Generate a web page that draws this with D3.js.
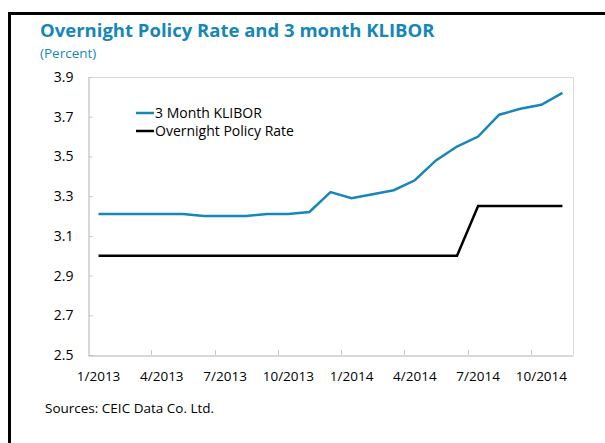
<!DOCTYPE html>
<html>
<head>
<meta charset="utf-8">
<script src="https://cdn.jsdelivr.net/npm/d3@7"></script>
<style>
body{margin:0;background:#fff;}
text{font-family:"Open Sans",sans-serif;}
</style>
</head>
<body>
<div id="chart"></div>
<script>
// chart data
var months=["1/2013","2/2013","3/2013","4/2013","5/2013","6/2013","7/2013","8/2013","9/2013","10/2013","11/2013","12/2013",
    "1/2014","2/2014","3/2014","4/2014","5/2014","6/2014","7/2014","8/2014","9/2014","10/2014","11/2014"];
var klibor=[3.21,3.21,3.21,3.21,3.21,3.20,3.20,3.20,3.21,3.21,3.22,3.32,
    3.29,3.31,3.33,3.38,3.48,3.55,3.60,3.71,3.74,3.76,3.82];
var opr=[3.00,3.00,3.00,3.00,3.00,3.00,3.00,3.00,3.00,3.00,3.00,3.00,
    3.00,3.00,3.00,3.00,3.00,3.00,3.25,3.25,3.25,3.25,3.25];
var yTicks=[2.5,2.7,2.9,3.1,3.3,3.5,3.7,3.9];
var xLabels=["1/2013","4/2013","7/2013","10/2013","1/2014","4/2014","7/2014","10/2014"];
var seriesNames=["3 Month KLIBOR","Overnight Policy Rate"];
var seriesColors=["#1687b8","#000000"];

// svg size
var svgWidth=605;
var svgHeight=443;

// plot area
var margin={top:77,left:88,right:32,bottom:88};
var chartWidth=svgWidth-margin.left-margin.right;
var chartHeight=svgHeight-margin.top-margin.bottom;

var svg=d3.select("#chart")
    .append("svg")
    .attr("width",svgWidth)
    .attr("height",svgHeight);

// outer frame (runs past right and bottom edges)
svg.append("rect")
    .attr("x",9.5)
    .attr("y",13.5)
    .attr("width",700)
    .attr("height",700)
    .attr("fill","none")
    .attr("stroke","#000")
    .attr("stroke-width",3);

// title
svg.append("text")
    .attr("x",40)
    .attr("y",37)
    .attr("fill","#1687b8")
    .attr("font-size","18.5px")
    .attr("font-weight","bold")
    .text("Overnight Policy Rate and 3 month KLIBOR");

svg.append("text")
    .attr("x",40)
    .attr("y",58)
    .attr("fill","#1687b8")
    .attr("font-size","13.5px")
    .text("(Percent)");

var chartGroup=svg.append("g")
    .attr("transform",`translate(${margin.left},${margin.top})`);

// scales
var xScale=d3.scaleBand()
    .domain(months)
    .range([0,chartWidth]);
var yScale=d3.scaleLinear()
    .domain([2.5,3.9])
    .range([chartHeight,0]);
var xMid=d=>xScale(d)+xScale.bandwidth()/2;

// light frame on top and right
chartGroup.append("path")
    .attr("d",`M0.5,0.5H${chartWidth+0.5}V${chartHeight}`)
    .attr("fill","none")
    .attr("stroke","#d9d9d9");

// y axis
var leftAxis=d3.axisLeft(yScale)
    .tickValues(yTicks)
    .tickFormat(d3.format(".1f"))
    .tickSize(-4)
    .tickPadding(15);
var yAxis=chartGroup.append("g")
    .attr("transform","translate(0.5,0)")
    .call(leftAxis);
yAxis.select(".domain").attr("stroke","#b3b3b3");
yAxis.selectAll(".tick line").attr("stroke","#c8c8c8");
yAxis.selectAll(".tick text")
    .attr("font-size","14px")
    .attr("font-family","'Open Sans',sans-serif")
    .attr("fill","#000");

// x axis: labels on every third month, ticks between categories
var bottomAxis=d3.axisBottom(xScale)
    .tickValues(xLabels)
    .tickSize(0)
    .tickPadding(16);
var xAxis=chartGroup.append("g")
    .attr("transform",`translate(0,${chartHeight+0.5})`)
    .call(bottomAxis);
xAxis.select(".domain").attr("stroke","#b3b3b3");
xAxis.selectAll(".tick text")
    .attr("font-size","13.5px")
    .attr("font-family","'Open Sans',sans-serif")
    .attr("fill","#000");

chartGroup.append("g")
    .selectAll("line")
    .data(xLabels.slice(1))
    .enter()
    .append("line")
    .attr("x1",d=>Math.round(xScale(d))+0.5)
    .attr("x2",d=>Math.round(xScale(d))+0.5)
    .attr("y1",chartHeight)
    .attr("y2",chartHeight-5)
    .attr("stroke","#c8c8c8");

// lines
var line=d3.line()
    .x((d,i)=>xMid(months[i]))
    .y(d=>yScale(d));

chartGroup.append("path")
    .datum(opr)
    .attr("d",line)
    .attr("fill","none")
    .attr("stroke",seriesColors[1])
    .attr("stroke-width",2.5);

chartGroup.append("path")
    .datum(klibor)
    .attr("d",line)
    .attr("fill","none")
    .attr("stroke",seriesColors[0])
    .attr("stroke-width",2.5);

// legend
var legend=svg.append("g")
    .attr("transform","translate(136,113)");
legend.selectAll("line")
    .data(seriesNames)
    .enter()
    .append("line")
    .attr("x1",0)
    .attr("x2",18)
    .attr("y1",(d,i)=>i*18)
    .attr("y2",(d,i)=>i*18)
    .attr("stroke",(d,i)=>seriesColors[i])
    .attr("stroke-width",2.5);
legend.selectAll("text")
    .data(seriesNames)
    .enter()
    .append("text")
    .attr("x",19)
    .attr("y",(d,i)=>i*18+5)
    .attr("font-size","14px")
    .text(d=>d);

// source note
svg.append("text")
    .attr("x",45)
    .attr("y",413)
    .attr("font-size","13.5px")
    .text("Sources: CEIC Data Co. Ltd.");
</script>
</body>
</html>
